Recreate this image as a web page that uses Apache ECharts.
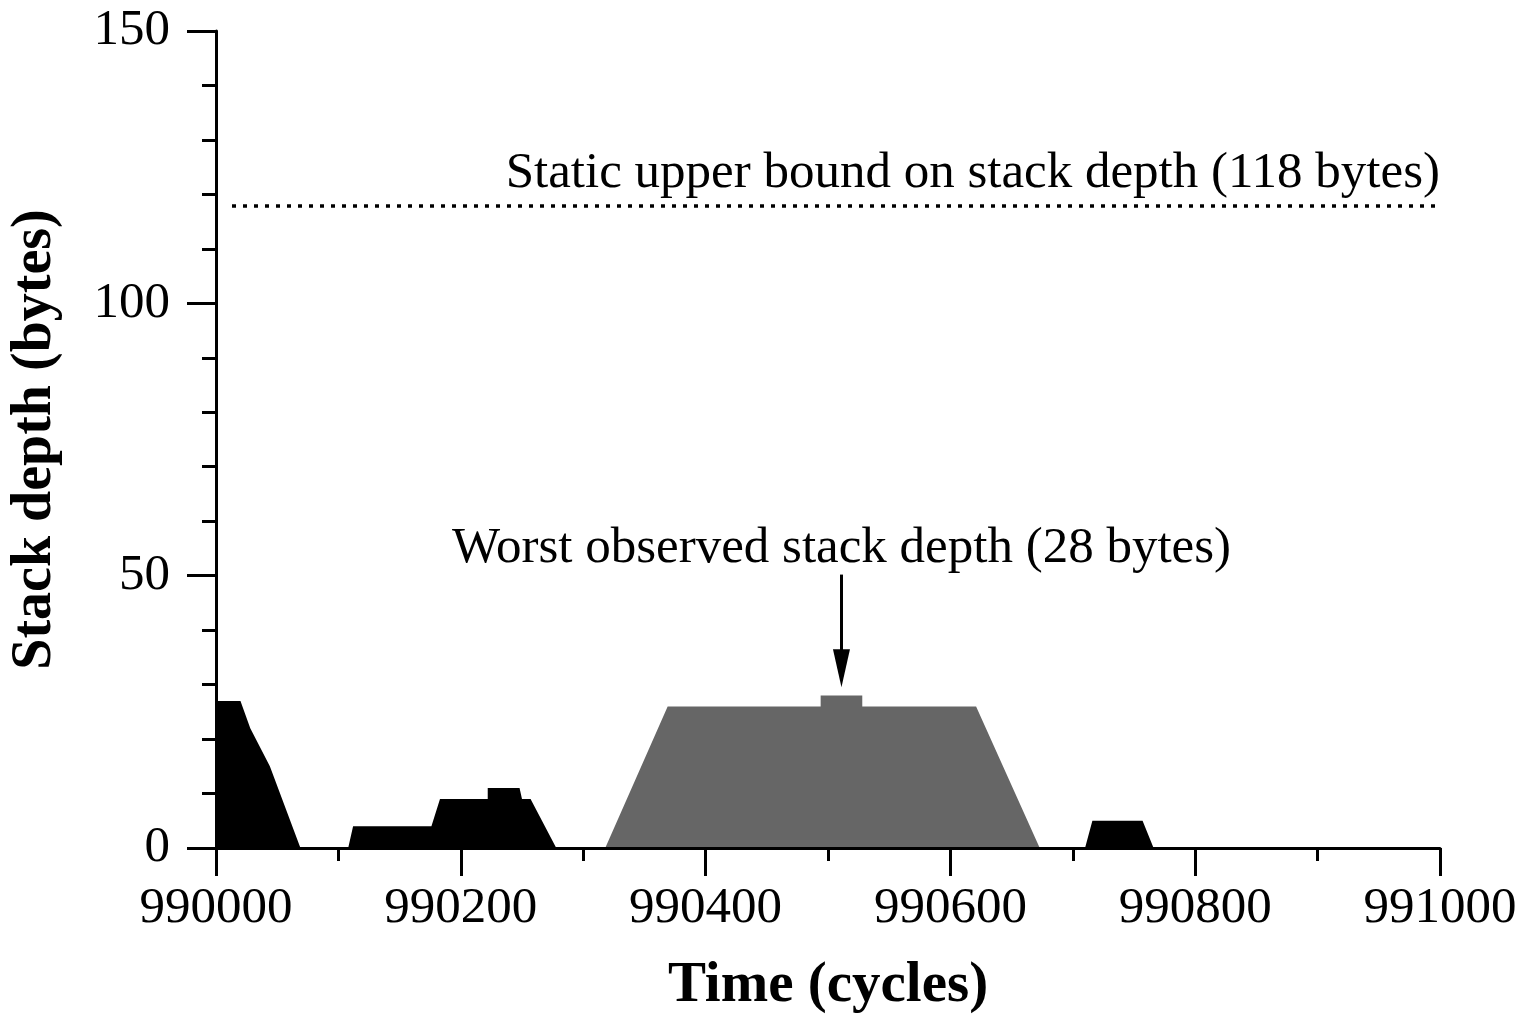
<!DOCTYPE html>
<html>
<head>
<meta charset="utf-8">
<script src="https://cdn.jsdelivr.net/npm/echarts@6/dist/echarts.min.js"></script>
<style>
  html, body { margin: 0; padding: 0; background: #fff; }
  #chart { width: 1526px; height: 1015px; }
</style>
</head>
<body>
<div id="chart"></div>
<script>
// stack depth trace, black parts (cycles, bytes)
var blackTime  = [990000, 990020, 990028, 990044, 990069, 990108, 990112, 990176, 990183, 990222, 990222, 990248, 990250, 990257, 990278, 990710, 990716, 990757, 990766];
var blackDepth = [27,     27,     22,     15,     0,      0,      4,      4,      9,      9,      11,     11,     9,      9,      0,      0,      5,      5,      0];

// the highlighted (gray) burst
var grayTime  = [990318, 990369, 990494, 990494, 990528, 990528, 990621, 990673];
var grayDepth = [0,      26,     26,     28,     28,     26,     26,     0];

var staticBound = 118;
var worstObserved = 28;
var worstTime = 990511;

var xTicks = [990000, 990200, 990400, 990600, 990800, 991000];
var yTicks = [0, 50, 100, 150];

function pairs(xs, ys) {
  var out = [];
  for (var i = 0; i < xs.length; i++) out.push([xs[i], ys[i]]);
  return out;
}

var FONT = "'Liberation Serif', 'Times New Roman', serif";

var myChart = echarts.init(document.getElementById("chart"));

var option = {
  animation: false,
  backgroundColor: "#fff",
  grid: { left: 216, right: 86, top: 31, bottom: 167, outerBoundsMode: "none", containLabel: false },
  xAxis: {
    type: "value",
    min: xTicks[0],
    max: xTicks[xTicks.length - 1],
    interval: 200,
    z: 10,
    name: "Time (cycles)",
    nameLocation: "middle",
    nameGap: 110,
    nameTextStyle: { fontFamily: FONT, fontWeight: "bold", fontSize: 57, color: "#000" },
    axisLine: { show: true, lineStyle: { color: "#000", width: 3 } },
    axisTick: { show: true, length: 28, lineStyle: { color: "#000", width: 3 } },
    minorTick: { show: true, splitNumber: 2, length: 13, lineStyle: { color: "#000", width: 3 } },
    splitLine: { show: false },
    axisLabel: {
      fontFamily: FONT, fontSize: 51, color: "#000", margin: 35,
      formatter: function (v) { return String(v); }
    }
  },
  yAxis: {
    type: "value",
    min: yTicks[0],
    max: yTicks[yTicks.length - 1],
    interval: 50,
    z: 10,
    name: "Stack depth (bytes)",
    nameLocation: "middle",
    nameGap: 152,
    nameTextStyle: { fontFamily: FONT, fontWeight: "bold", fontSize: 56, color: "#000" },
    axisLine: { show: true, lineStyle: { color: "#000", width: 3 } },
    axisTick: { show: true, length: 29, lineStyle: { color: "#000", width: 3 } },
    minorTick: { show: true, splitNumber: 5, length: 14, lineStyle: { color: "#000", width: 3 } },
    splitLine: { show: false },
    axisLabel: { fontFamily: FONT, fontSize: 51, color: "#000", margin: 46 }
  },
  series: [
    {
      name: "trace",
      type: "line",
      data: pairs(blackTime, blackDepth),
      symbol: "none",
      lineStyle: { width: 0 },
      areaStyle: { color: "#000", opacity: 1 },
      itemStyle: { color: "#000" },
      z: 2
    },
    {
      name: "burst",
      type: "line",
      data: pairs(grayTime, grayDepth),
      symbol: "none",
      lineStyle: { width: 0 },
      areaStyle: { color: "#666666", opacity: 1 },
      itemStyle: { color: "#666666" },
      z: 3,
      markLine: {
        silent: true,
        animation: false,
        data: [
          [
            { yAxis: staticBound, x: 232, symbol: "none" },
            { yAxis: staticBound, xAxis: 991000, symbol: "none" }
          ]
        ],
        symbol: ["none", "none"],
        lineStyle: { color: "#000", width: 3.5, type: [4, 7] },
        label: {
          show: true,
          position: "insideEndTop",
          distance: [0, 6],
          formatter: "Static upper bound on stack depth (" + staticBound + " bytes)",
          fontFamily: FONT,
          fontSize: 51,
          color: "#000"
        }
      }
    },
    {
      name: "arrow",
      type: "line",
      data: [],
      markLine: {
        silent: true,
        animation: false,
        symbol: ["none", "triangle"],
        symbolSize: [17, 38],
        lineStyle: { color: "#000", width: 3, type: "solid" },
        label: { show: false },
        data: [
          [
            { coord: [worstTime, 50.2] },
            { coord: [worstTime, 33] }
          ]
        ]
      },
      markPoint: {
        silent: true,
        animation: false,
        symbol: "rect",
        symbolSize: 0,
        label: {
          show: true,
          position: "inside",
          formatter: "Worst observed stack depth (" + worstObserved + " bytes)",
          fontFamily: FONT,
          fontSize: 51,
          color: "#000"
        },
        data: [{ coord: [worstTime, 54.9] }]
      }
    }
  ]
};

myChart.setOption(option);
</script>
</body>
</html>
